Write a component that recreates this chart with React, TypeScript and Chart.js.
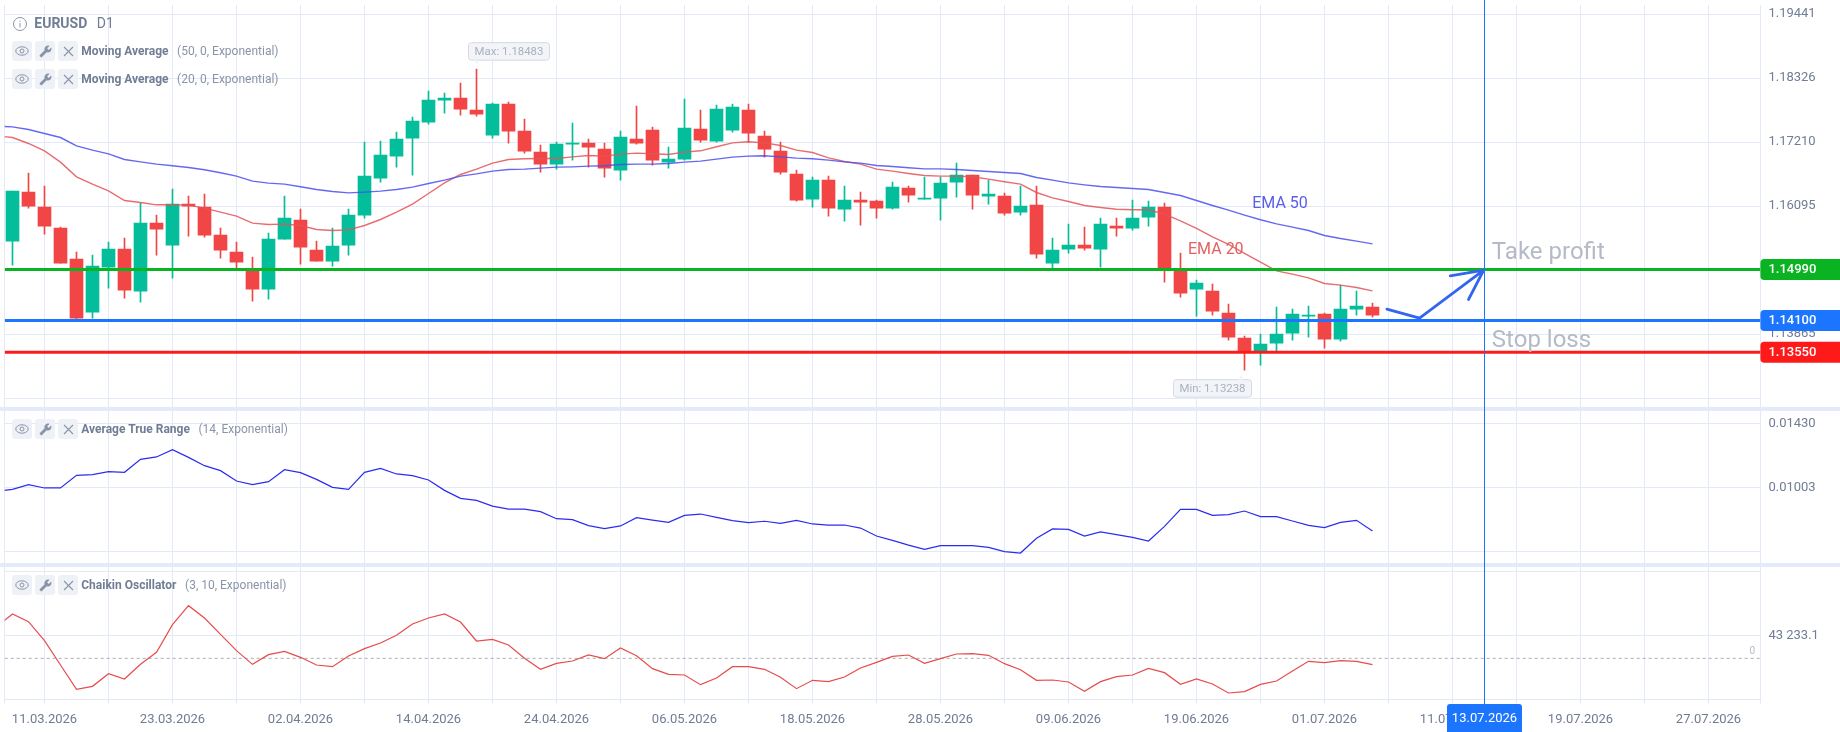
import { useEffect, useRef } from "react";
import { Chart, registerables, type Plugin } from "chart.js";

Chart.register(...registerables);

// Daily candles
const opens = [
  1.15484, 1.16338, 1.16076, 1.1571, 1.1517, 1.14246, 1.15031, 1.15344, 1.14612, 1.15797,
  1.15414, 1.16129, 1.16076, 1.15588, 1.15292, 1.1499, 1.14647, 1.15519, 1.1585, 1.15327,
  1.15135, 1.15414, 1.15937, 1.16582, 1.16965, 1.17279, 1.17558, 1.17941, 1.17976, 1.17767,
  1.17331, 1.17871, 1.17401, 1.17035, 1.16826, 1.17174, 1.17192, 1.17087, 1.16721, 1.17261,
  1.17418, 1.16861, 1.16913, 1.17436, 1.17226, 1.17418, 1.17767, 1.17314, 1.17052, 1.16651,
  1.16216, 1.16547, 1.16041, 1.16198, 1.16181, 1.16059, 1.16407, 1.16216, 1.16233, 1.16512,
  1.16634, 1.16268, 1.16268, 1.15989, 1.16111, 1.151, 1.15344, 1.15414, 1.15344, 1.15745,
  1.1571, 1.15902, 1.16076, 1.14961, 1.14647, 1.14612, 1.14229, 1.13793, 1.13567, 1.13706,
  1.1388, 1.14177, 1.14212, 1.13776, 1.14299, 1.14334,
];
const highs = [
  1.16355, 1.16669, 1.16442, 1.15728, 1.15292, 1.1524, 1.15466, 1.15536, 1.16146, 1.15937,
  1.1639, 1.16268, 1.16303, 1.1571, 1.15466, 1.15205, 1.15623, 1.16268, 1.16041, 1.15484,
  1.1571, 1.16041, 1.17209, 1.17226, 1.17383, 1.17645, 1.18098, 1.18063, 1.18237, 1.18481,
  1.17889, 1.17906, 1.1761, 1.17157, 1.17209, 1.1754, 1.17261, 1.17192, 1.17401, 1.17836,
  1.1747, 1.17122, 1.17958, 1.17767, 1.17854, 1.17871, 1.17871, 1.17401, 1.17209, 1.16721,
  1.16599, 1.16617, 1.16442, 1.16338, 1.16198, 1.16512, 1.16442, 1.16599, 1.16599, 1.16843,
  1.16634, 1.16547, 1.1632, 1.16442, 1.16442, 1.15536, 1.1578, 1.15728, 1.15885, 1.15885,
  1.16198, 1.16181, 1.16146, 1.15275, 1.14804, 1.14734, 1.14386, 1.13828, 1.13863, 1.14334,
  1.14299, 1.14351, 1.14229, 1.14717, 1.14612, 1.14403,
];
const lows = [
  1.15066, 1.16059, 1.15606, 1.151, 1.14124, 1.14142, 1.14665, 1.1449, 1.14421, 1.1524,
  1.14839, 1.15571, 1.15553, 1.15188, 1.15013, 1.14438, 1.14473, 1.15519, 1.15083, 1.15135,
  1.15048, 1.1524, 1.15885, 1.16512, 1.16773, 1.16634, 1.17523, 1.17714, 1.1768, 1.17662,
  1.17279, 1.17192, 1.17017, 1.16686, 1.16739, 1.16895, 1.16773, 1.16599, 1.16547, 1.17174,
  1.16808, 1.16756, 1.16895, 1.17209, 1.17209, 1.17383, 1.17209, 1.16948, 1.16651, 1.16181,
  1.16076, 1.15919, 1.15832, 1.15763, 1.15885, 1.16041, 1.16163, 1.16216, 1.1585, 1.16251,
  1.16041, 1.16129, 1.15937, 1.15937, 1.15188, 1.15013, 1.15275, 1.15327, 1.15031, 1.15571,
  1.15675, 1.15745, 1.14769, 1.14508, 1.14177, 1.14194, 1.13758, 1.13236, 1.13323, 1.13567,
  1.13758, 1.13811, 1.13619, 1.13741, 1.14194, 1.14159,
];
const closes = [
  1.16355, 1.16094, 1.15745, 1.151, 1.14142, 1.15048, 1.15344, 1.1463, 1.15797, 1.15693,
  1.16129, 1.16094, 1.15588, 1.15327, 1.15118, 1.14647, 1.15519, 1.15885, 1.15379, 1.15135,
  1.15397, 1.15937, 1.16617, 1.16982, 1.17261, 1.17575, 1.17941, 1.17976, 1.17784, 1.17697,
  1.17871, 1.17401, 1.17052, 1.16826, 1.17174, 1.17192, 1.17122, 1.16756, 1.17296, 1.17192,
  1.16895, 1.16913, 1.17453, 1.17244, 1.17784, 1.17819, 1.17366, 1.17087, 1.16686, 1.16198,
  1.16547, 1.16059, 1.16198, 1.16163, 1.16059, 1.16425, 1.16285, 1.16233, 1.16495, 1.16634,
  1.16285, 1.16303, 1.15972, 1.16094, 1.15257, 1.15327, 1.15414, 1.15362, 1.1578, 1.1571,
  1.15885, 1.16076, 1.14975, 1.14578, 1.14752, 1.14264, 1.13811, 1.13549, 1.13689, 1.13863,
  1.14212, 1.14194, 1.13776, 1.14299, 1.14351, 1.14194,
];

// Indicator lines start one bar before the first visible candle
const ema50 = [
  1.17488, 1.17476, 1.1743, 1.1736, 1.1729, 1.17145, 1.1707, 1.17006, 1.16907, 1.16866,
  1.16826, 1.16797, 1.16768, 1.16727, 1.16675, 1.16617, 1.16529, 1.16495, 1.16477, 1.16431,
  1.16384, 1.16349, 1.16326, 1.16338, 1.16355, 1.16384, 1.16425, 1.16489, 1.16547, 1.16617,
  1.16657, 1.16704, 1.16733, 1.16739, 1.16756, 1.16773, 1.16779, 1.16791, 1.16797, 1.1682,
  1.16826, 1.16826, 1.16837, 1.16861, 1.16878, 1.16913, 1.16948, 1.16965, 1.16971, 1.16953,
  1.1693, 1.16919, 1.16895, 1.16866, 1.16843, 1.16802, 1.16785, 1.16762, 1.16744, 1.16744,
  1.16733, 1.16715, 1.16698, 1.1668, 1.16663, 1.16593, 1.16547, 1.165, 1.16465, 1.16436,
  1.16419, 1.16402, 1.16384, 1.16332, 1.1628, 1.16192, 1.16105, 1.16024, 1.15937, 1.15856,
  1.15786, 1.15728, 1.1567, 1.15583, 1.1553, 1.15484, 1.15437,
];
const ema20 = [
  1.17319, 1.1729, 1.17186, 1.17058, 1.16861, 1.16605, 1.16477, 1.16361, 1.16192, 1.16158,
  1.16117, 1.16117, 1.16111, 1.16059, 1.15989, 1.15919, 1.15797, 1.15774, 1.1578, 1.15757,
  1.15687, 1.1567, 1.15681, 1.15757, 1.15861, 1.15989, 1.16129, 1.16314, 1.165, 1.16646,
  1.16739, 1.16843, 1.16907, 1.16919, 1.16924, 1.16924, 1.16953, 1.16977, 1.16965, 1.17,
  1.17017, 1.17006, 1.16994, 1.17035, 1.17058, 1.17128, 1.17197, 1.17215, 1.17197, 1.17151,
  1.1707, 1.17029, 1.16936, 1.16872, 1.16826, 1.16739, 1.16704, 1.16663, 1.16628, 1.16617,
  1.16617, 1.16605, 1.16564, 1.16518, 1.16477, 1.16332, 1.16239, 1.16175, 1.16105, 1.1607,
  1.16041, 1.1603, 1.1603, 1.15954, 1.15838, 1.15705, 1.15559, 1.15426, 1.15269, 1.15118,
  1.14967, 1.14909, 1.14845, 1.14746, 1.14717, 1.14676, 1.14618,
];
const atr = [
  0.00979, 0.00992, 0.01023, 0.01001, 0.01001, 0.01085, 0.01089, 0.01109, 0.01105, 0.01191,
  0.01207, 0.01255, 0.01204, 0.01149, 0.01116, 0.01047, 0.01023, 0.01043, 0.01122, 0.01103,
  0.01058, 0.01005, 0.00992, 0.01105, 0.01131, 0.01094, 0.01083, 0.01054, 0.00985, 0.00932,
  0.00919, 0.00881, 0.00861, 0.00861, 0.00844, 0.00797, 0.00791, 0.00751, 0.00731, 0.00749,
  0.00804, 0.00788, 0.00773, 0.00819, 0.00828, 0.00806, 0.00784, 0.00771, 0.0078, 0.00766,
  0.00786, 0.00762, 0.00755, 0.00755, 0.00735, 0.00682, 0.00653, 0.00622, 0.00594, 0.00618,
  0.00618, 0.00618, 0.00607, 0.00578, 0.00569, 0.00667, 0.00729, 0.00726, 0.00682, 0.00709,
  0.00691, 0.00673, 0.00649, 0.00746, 0.00859, 0.00859, 0.00819, 0.00824, 0.00848, 0.00811,
  0.00811, 0.00782, 0.00753, 0.00738, 0.00773, 0.00786, 0.00715,
];
const chaikin = [
  59527, 83338, 68926, 33210, -12532, -58274, -52634, -28824, -38849, -11279,
  11279, 63287, 99003, 75819, 45115, 14412, -11279, 6893, 13159, 1880,
  -12532, -15665, 4386, 18171, 28824, 43235, 64540, 75819, 83338, 68299,
  32583, 35716, 25064, 0, -20678, -9399, -5013, 6266, -627, 19425,
  5013, -19425, -30077, -31330, -49501, -36969, -15665, -15665, -20678, -35716,
  -57021, -41356, -43862, -35090, -18171, -7519, 3760, 6266, -9399, -627,
  8146, 8772, 5639, -10026, -21304, -41356, -40729, -44489, -62033, -43862,
  -34463, -31330, -18798, -26944, -48875, -38849, -48248, -65166, -62660, -48875,
  -42609, -23811, -5639, -8146, -4386, -5639, -11905,
];

// Axis ticks
const gridBars = [-0.4875, 2, 6, 10, 14, 18, 22, 26, 30, 34, 38, 42, 46, 50, 54, 58, 62, 66, 70, 74, 78, 82, 86, 90, 94, 98, 102, 106, 109.24375];
const dateLabels: Record<number, string> = {
  2: "11.03.2026", 10: "23.03.2026", 18: "02.04.2026", 26: "14.04.2026", 34: "24.04.2026",
  42: "06.05.2026", 50: "18.05.2026", 58: "28.05.2026", 66: "09.06.2026", 74: "19.06.2026",
  82: "01.07.2026", 90: "11.07.2026", 98: "19.07.2026", 106: "27.07.2026",
};
const priceTicks = [1.19441, 1.18326, 1.1721, 1.16095, 1.1498, 1.13865, 1.1275];
const priceTickLabels = ["1.19441", "1.18326", "1.17210", "1.16095", "", "1.13865", ""];
const atrTicks = [0.0143, 0.01003, 0.00576];
const atrTickLabels = ["0.01430", "0.01003", ""];
const chaikinTicks = [163543, 43233.1, -77074];
const chaikinTickLabels = ["", "43 233.1", ""];

// Drawn trade levels and the sketched arrow
const levelPrices = [1.1499, 1.141, 1.1355];
const levelLabels = ["1.14990", "1.14100", "1.13550"];
const levelColors = ["#0ab322", "#1c75ff", "#ff1a1a"];
const arrowBars = [85.9, 87.94, 91.95, 89.86, 91.95, 91.0];
const arrowPrices = [1.14299, 1.14142, 1.14978, 1.1488, 1.14978, 1.14467];
const crosshairBar = 92;
const crosshairDate = "13.07.2026";
const maxBar = 29;
const minBar = 77;

const GRID = "#e3e9f6";
const AXIS_TEXT = "#707d94";
const UP = "#03bd9b";
const DOWN = "#f24646";
const FONT = "Roboto";

const xMin = gridBars[0];
const xMax = gridBars[gridBars.length - 1];
const bars = opens.map((_, i) => i);
const lineXY = (vals: number[]) => vals.map((y, i) => ({ x: i - 1, y }));

function callout(ctx: CanvasRenderingContext2D, text: string, left: number, top: number, w: number, tipX: number, tipY: number) {
  const h = 17.5;
  const up = tipY < top;
  ctx.beginPath();
  ctx.roundRect(left, top, w, h, 3);
  ctx.fillStyle = "#f2f4f8";
  ctx.strokeStyle = "#d4dae6";
  ctx.lineWidth = 1;
  ctx.fill();
  ctx.stroke();
  const edge = up ? top : top + h;
  ctx.beginPath();
  ctx.moveTo(tipX - 4, edge);
  ctx.lineTo(tipX, tipY);
  ctx.lineTo(tipX + 1, edge);
  ctx.fill();
  ctx.fillStyle = "#a9b1c1";
  ctx.font = `11.4px ${FONT}`;
  ctx.textAlign = "center";
  ctx.textBaseline = "middle";
  ctx.fillText(text, left + w / 2, top + h / 2 + 0.5);
}

const overlay: Plugin<"bar"> = {
  id: "overlay",
  afterDraw(chart) {
    const { ctx, scales } = chart;
    const x = scales.x;
    const price = scales.yPrice;
    ctx.save();

    // pane separators
    ctx.fillStyle = "#e3ebfb";
    ctx.fillRect(0, 407, 1840, 4);
    ctx.fillRect(0, 563, 1840, 4);

    // text notes on the price pane
    ctx.textAlign = "left";
    ctx.textBaseline = "middle";
    ctx.font = `24px ${FONT}`;
    ctx.fillStyle = "#b4bac6";
    ctx.fillText("Take profit", x.getPixelForValue(92.46), price.getPixelForValue(1.1527));
    ctx.fillText("Stop loss", x.getPixelForValue(92.46), price.getPixelForValue(1.1375));
    ctx.font = `16px ${FONT}`;
    ctx.fillStyle = "#5a5fe8";
    ctx.fillText("EMA 50", x.getPixelForValue(77.48), price.getPixelForValue(1.16125));
    ctx.fillStyle = "#e5605f";
    ctx.fillText("EMA 20", x.getPixelForValue(73.47), price.getPixelForValue(1.15325));

    // max and min call-outs
    const maxX = x.getPixelForValue(maxBar);
    const maxY = price.getPixelForValue(highs[maxBar]);
    callout(ctx, "Max: 1.18483", maxX - 8, maxY - 26.5, 81, maxX + 1, maxY - 5);
    const minX = x.getPixelForValue(minBar);
    const minY = price.getPixelForValue(lows[minBar]);
    callout(ctx, "Min: 1.13238", minX - 71, minY + 9.5, 78, minX - 2.5, minY + 4);

    // zero label of the oscillator
    ctx.font = `10px ${FONT}`;
    ctx.fillStyle = "#b5bac6";
    ctx.textAlign = "right";
    ctx.fillText("0", 1755, scales.yChaikin.getPixelForValue(0) - 6.5);

    // level tags on the price axis
    ctx.font = `500 13px ${FONT}`;
    ctx.textAlign = "left";
    levelPrices.forEach((p, i) => {
      const y = price.getPixelForValue(p);
      ctx.fillStyle = levelColors[i];
      ctx.beginPath();
      ctx.roundRect(x.right, y - 10.5, 1840 - x.right, 21, [4, 0, 0, 4]);
      ctx.fill();
      ctx.fillStyle = "#ffffff";
      ctx.fillText(levelLabels[i], x.right + 8, y + 0.5);
    });

    // crosshair with date tag
    const cx = x.getPixelForValue(crosshairBar);
    ctx.strokeStyle = "#1c75ff";
    ctx.lineWidth = 1;
    ctx.beginPath();
    ctx.moveTo(cx, 0);
    ctx.lineTo(cx, 704);
    ctx.stroke();
    ctx.fillStyle = "#1c75ff";
    ctx.beginPath();
    ctx.roundRect(cx - 37.5, 704, 75, 28, [3, 3, 0, 0]);
    ctx.fill();
    ctx.fillStyle = "#ffffff";
    ctx.font = `13px ${FONT}`;
    ctx.textAlign = "center";
    ctx.fillText(crosshairDate, cx, 718.5);
    ctx.restore();
  },
};

function PaneLegend({ top, name, params }: { top: number; name: string; params: string }) {
  const btn = {
    width: 19.7, height: 19.5, background: "#eef1f6", borderRadius: 3, marginRight: 3.3,
    display: "flex", alignItems: "center", justifyContent: "center",
  };
  return (
    <div style={{ position: "absolute", left: 12.3, top, height: 19.5, display: "flex", alignItems: "center", fontFamily: FONT, fontSize: 12, whiteSpace: "nowrap" }}>
      <div style={btn}>
        <svg width="14" height="14" viewBox="0 0 14 14" fill="none" stroke="#8a94a8">
          <ellipse cx="7" cy="7" rx="6.2" ry="4.2" />
          <circle cx="7" cy="7" r="2" />
        </svg>
      </div>
      <div style={btn}>
        <svg width="13" height="13" viewBox="0 0 24 24" fill="#8a94a8" style={{ transform: "scaleX(-1)" }}>
          <path d="M22.7 19l-9.1-9.1c.9-2.3.4-5-1.5-6.9-2-2-5-2.4-7.4-1.3L9 6 6 9 1.6 4.7C.4 7.1.9 10.1 2.9 12.1c1.9 1.9 4.6 2.4 6.9 1.5l9.1 9.1c.4.4 1 .4 1.4 0l2.3-2.3c.5-.4.5-1.1.1-1.4z" />
        </svg>
      </div>
      <div style={btn}>
        <svg width="11" height="11" viewBox="0 0 11 11" stroke="#8a94a8" strokeWidth="1.1">
          <path d="M1 1L10 10M10 1L1 10" />
        </svg>
      </div>
      <span style={{ fontWeight: 700, color: "#707d94", marginRight: 8.6 }}>{name}</span>
      <span style={{ color: "#8a94a8" }}>{params}</span>
    </div>
  );
}

export default function App() {
  const canvasRef = useRef<HTMLCanvasElement>(null);

  useEffect(() => {
    document.body.style.margin = "0";
    if (!canvasRef.current) return;

    const line = (data: object[], yAxisID: string, color: string, width: number, order: number) => ({
      type: "line" as const,
      data,
      yAxisID,
      borderColor: color,
      borderWidth: width,
      pointRadius: 0,
      tension: 0,
      order,
    });
    const fixedTicks = (values: number[]) => (scale: any) => {
      scale.ticks = values.map((value) => ({ value }));
    };
    // labels must not push the plot area in, the panes have exact heights
    const noPadding = (scale: any) => {
      scale.paddingTop = 0;
      scale.paddingBottom = 0;
      scale.paddingLeft = 0;
      scale.paddingRight = 0;
    };
    const yCommon = {
      type: "linear" as const,
      axis: "y" as const,
      position: "right" as const,
      stack: "panes",
      grid: { color: GRID, drawTicks: false },
      border: { color: GRID },
      afterFit: (scale: any) => {
        scale.width = 79.6;
        noPadding(scale);
      },
    };
    const tickOpts = (labels: string[]) => ({
      color: AXIS_TEXT,
      font: { family: FONT, size: 13 },
      padding: 8,
      crossAlign: "near" as const,
      autoSkip: false,
      callback: (_: unknown, i: number) => labels[i],
    });

    const chart = new Chart(canvasRef.current, {
      type: "bar",
      data: {
        datasets: [
          {
            data: bars.map((x) => ({ x, y: [lows[x], highs[x]] })),
            backgroundColor: bars.map((i) => (closes[i] >= opens[i] ? UP : DOWN)),
            barThickness: 1,
            grouped: false,
            yAxisID: "yPrice",
            order: 5,
          },
          {
            data: bars.map((x) => ({ x, y: [opens[x], closes[x]] })),
            backgroundColor: bars.map((i) => (closes[i] >= opens[i] ? UP : DOWN)),
            barThickness: 13,
            grouped: false,
            yAxisID: "yPrice",
            order: 4,
          },
          line(lineXY(ema50), "yPrice", "rgba(74,78,240,0.85)", 1.4, 3),
          line(lineXY(ema20), "yPrice", "rgba(228,84,88,0.85)", 1.4, 3),
          ...levelPrices.map((p, i) =>
            line([{ x: xMin, y: p }, { x: xMax, y: p }], "yPrice", levelColors[i], 3, 2)
          ),
          {
            ...line(arrowBars.map((x, i) => ({ x, y: arrowPrices[i] })), "yPrice", "#3366ee", 2.8, 1),
            borderCapStyle: "round" as const,
            borderJoinStyle: "round" as const,
          },
          line(lineXY(atr), "yAtr", "#2c2cf0", 1.2, 3),
          line(lineXY(chaikin), "yChaikin", "#e64c4c", 1.2, 3),
          {
            ...line([{ x: xMin, y: 0 }, { x: xMax, y: 0 }], "yChaikin", "#adadad", 1, 4),
            borderDash: [3, 3],
          },
        ] as any,
      },
      options: {
        animation: false,
        responsive: false,
        events: [],
        layout: { padding: { left: 4.7, top: 5, right: 0, bottom: 0 } },
        plugins: { legend: { display: false }, tooltip: { enabled: false } },
        scales: {
          x: {
            type: "linear",
            offset: false,
            min: xMin,
            max: xMax,
            afterBuildTicks: fixedTicks(gridBars),
            afterFit: (scale: any) => {
              scale.height = 32.5;
              noPadding(scale);
            },
            grid: { color: GRID, tickLength: 4, offset: false },
            border: { color: GRID },
            ticks: {
              color: AXIS_TEXT,
              font: { family: FONT, size: 13 },
              padding: 8,
              autoSkip: false,
              maxRotation: 0,
              callback: (value: any) => dateLabels[value] ?? "",
            },
          },
          yPrice: {
            ...yCommon,
            stackWeight: 404,
            min: 1.12559,
            max: 1.19599,
            afterBuildTicks: fixedTicks(priceTicks),
            ticks: tickOpts(priceTickLabels),
          },
          yAtr: {
            ...yCommon,
            stackWeight: 156,
            min: 0.004897,
            max: 0.015251,
            afterBuildTicks: fixedTicks(atrTicks),
            ticks: tickOpts(atrTickLabels),
          },
          yChaikin: {
            ...yCommon,
            stackWeight: 134.5,
            min: -77385,
            max: 175448,
            afterBuildTicks: fixedTicks(chaikinTicks),
            ticks: tickOpts(chaikinTickLabels),
          },
        } as any,
      },
      plugins: [overlay],
    });

    return () => chart.destroy();
  }, []);

  return (
    <div style={{ position: "relative", width: 1840, height: 732, background: "#fff", overflow: "hidden" }}>
      <canvas ref={canvasRef} width={1840} height={732} style={{ display: "block" }} />
      <svg width="16" height="16" viewBox="0 0 16 16" fill="none" stroke="#8a94a8" style={{ position: "absolute", left: 11.5, top: 15.5 }}>
        <circle cx="8" cy="8" r="6.5" />
        <path d="M8 4.5V5.7M8 7V11.5" />
      </svg>
      <div style={{ position: "absolute", left: 34.3, top: 15, fontFamily: FONT, fontSize: 14, color: "#707d94", whiteSpace: "nowrap" }}>
        <b>EURUSD</b>
        <span style={{ marginLeft: 9.5 }}>D1</span>
      </div>
      <PaneLegend top={41.3} name="Moving Average" params="(50, 0, Exponential)" />
      <PaneLegend top={69.3} name="Moving Average" params="(20, 0, Exponential)" />
      <PaneLegend top={419.3} name="Average True Range" params="(14, Exponential)" />
      <PaneLegend top={575.3} name="Chaikin Oscillator" params="(3, 10, Exponential)" />
    </div>
  );
}
